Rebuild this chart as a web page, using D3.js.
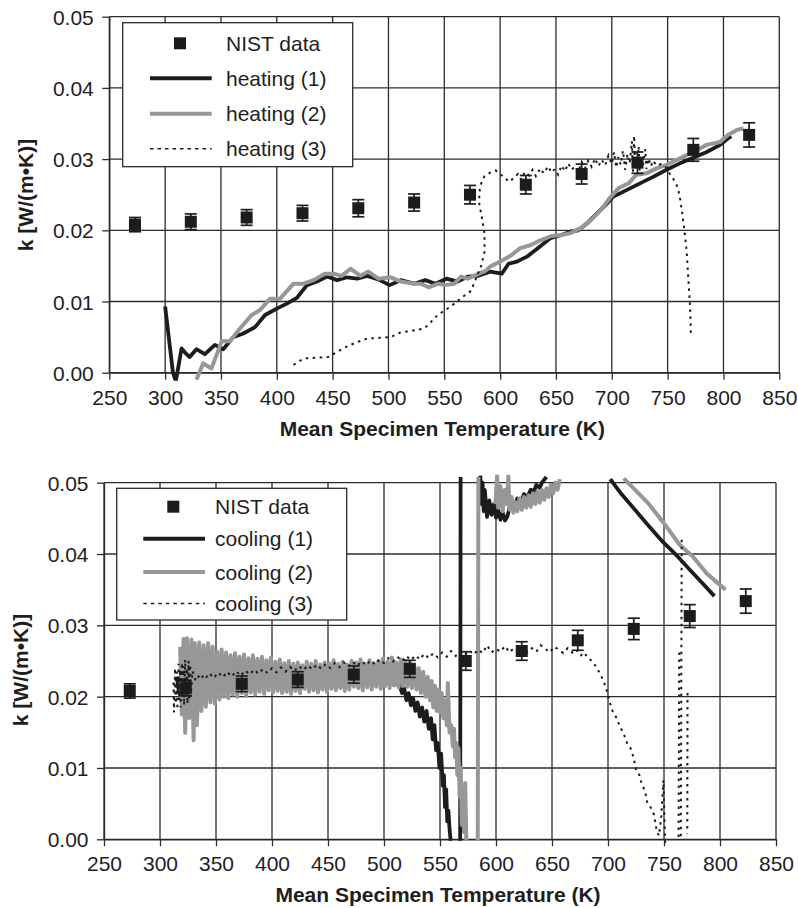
<!DOCTYPE html>
<html><head><meta charset="utf-8">
<script src="https://cdn.jsdelivr.net/npm/d3@7"></script>
<style>
body{margin:0;background:#fff}
svg{display:block}
text{font-family:"Liberation Sans",Arial,Helvetica,sans-serif;fill:#1e1e1e}
</style>
</head><body>
<svg id="c" width="798" height="908"></svg>
<script>
// ---------------- DATA ----------------
const xTicks = [250,300,350,400,450,500,550,600,650,700,750,800,850];
const yTicks = [0,0.01,0.02,0.03,0.04,0.05];
const yTickLabels = ["0.00","0.01","0.02","0.03","0.04","0.05"];
const xTitle = "Mean Specimen Temperature (K)";
const yTitle = "k [W/(m\u2022K)]";

const nistT = [273,323,373,423,473,523,573,623,673,723,773,823];
const nistK = [0.0208,0.0212,0.0218,0.0224,0.0231,0.0239,0.0250,0.0264,0.0279,0.0295,0.0313,0.0334];
const nistErr = [0.0010,0.0011,0.0011,0.0011,0.0012,0.0012,0.0013,0.0013,0.0014,0.0015,0.0016,0.0017];

const heatingNames = ["NIST data","heating (1)","heating (2)","heating (3)"];
const coolingNames = ["NIST data","cooling (1)","cooling (2)","cooling (3)"];

const heating1 = [[300,0.0093],[304,0.0040],[307,0.0000],[309.6,-0.0012],[312,0.0010],[314.7,0.0034],[318,0.0028],[322,0.0022],[328,0.0033],[335.6,0.0026],[344.6,0.0039],[352,0.0033],[361,0.0050],[370,0.0055],[380.5,0.0064],[389.5,0.0081],[400,0.0090],[409,0.0097],[418,0.0105],[427,0.0123],[436,0.0128],[445,0.0135],[454,0.0130],[463,0.0134],[472,0.0132],[481,0.0136],[491,0.0131],[501,0.0123],[511,0.0130],[523,0.0125],[533,0.0130],[542,0.0125],[552,0.0132],[562,0.0128],[571,0.0135],[580,0.0136],[591,0.0142],[601.5,0.0139],[607.5,0.0153],[615,0.0156],[624,0.0163],[634,0.0175],[645,0.0189],[654,0.0193],[663,0.0198],[670,0.0200],[678,0.0210],[687,0.0224],[696,0.0238],[701,0.0247],[710,0.0254],[719,0.0261],[728,0.0268],[737,0.0275],[749,0.0285],[761,0.0294],[773,0.0302],[785,0.0310],[797,0.0320],[804,0.0329],[807,0.0332]];

const heating2 = [[328,-0.0010],[334,0.0013],[341.6,0.0006],[350.6,0.0044],[358,0.0044],[367,0.0062],[377.5,0.0081],[385,0.0088],[394,0.0104],[403,0.0104],[415,0.0125],[424,0.0125],[433,0.0130],[443,0.0139],[451,0.0139],[458,0.0136],[466,0.0146],[475,0.0136],[482,0.0142],[491,0.0132],[502,0.0134],[511,0.0128],[523,0.0125],[529,0.0125],[536,0.0120],[545,0.0125],[550,0.0123],[559,0.0125],[565,0.0135],[571,0.0132],[578,0.0137],[587,0.0143],[591,0.0149],[600,0.0156],[610,0.0165],[618,0.0175],[627,0.0179],[636,0.0186],[646,0.0192],[654,0.0193],[663,0.0196],[672,0.0203],[681,0.0214],[690,0.0228],[698,0.0245],[706,0.0259],[715,0.0266],[722,0.0278],[731,0.0280],[740,0.0287],[749,0.0292],[761,0.0301],[773,0.0310],[785,0.0320],[797,0.0324],[804,0.0334],[812,0.0341],[818,0.0343]];

const heating3 = [[415,0.0011],[424,0.0020],[436,0.0021],[446,0.0022],[455,0.0030],[463,0.0037],[472,0.0043],[481,0.0048],[492,0.0049],[502,0.0050],[510,0.0056],[517,0.0058],[525,0.0060],[532,0.0062],[538,0.0071],[544,0.0081],[552,0.0089],[559,0.0097],[566,0.0106],[574,0.0115],[579,0.0135],[583,0.0150],[586,0.0170],[586,0.0195],[584,0.0215],[581,0.0240],[582,0.0262],[586,0.0276],[591,0.0281],[596,0.0284],[600,0.0279],[605,0.0272],[609,0.0268],[612,0.0274],[616,0.0279],[619,0.0271],[622,0.0282],[626,0.0277],[629,0.0285],[632,0.0276],[636,0.0287],[639,0.0280],[643,0.0290],[646,0.0281],[649,0.0286],[652,0.0278],[655,0.0291],[658,0.0283],[661,0.0294],[664,0.0285],[667,0.0290],[670,0.0282],[673,0.0296],[676,0.0287],[679,0.0298],[682,0.0289],[685,0.0301],[688,0.0290],[691,0.0299],[694,0.0291],[697,0.0305],[700,0.0293],[702,0.0310],[704,0.0288],[706,0.0303],[708,0.0292],[710,0.0312],[712,0.0285],[714,0.0307],[716,0.0294],[718,0.0325],[719,0.0282],[720,0.0333],[721,0.0289],[722,0.0310],[723,0.0286],[724,0.0318],[725,0.0283],[727,0.0305],[728,0.0292],[730,0.0314],[731,0.0286],[733,0.0301],[735,0.0290],[737,0.0298],[740,0.0291],[744,0.0293],[748,0.0289],[752,0.0279],[756,0.0270],[759,0.0260],[761,0.0246],[763,0.0225],[765,0.0200],[767,0.0172],[768,0.0145],[769,0.0120],[770,0.0095],[770.5,0.0075],[770.8,0.0055]];

const cooling1 = [[795,0.0341],[785,0.0358],[773,0.0378],[762,0.0397],[749,0.0417],[736,0.0440],[723,0.0464],[712,0.0484],[702,0.0505],[700,null],
[645,0.0508],[641,0.0500],[639,0.0493],[636,0.0497],[634,0.0488],[631,0.0490],[628,0.0480],[625,0.0484],[622,0.0472],[619,0.0478],[616,0.0465],[613,0.0470],[610,0.0452],[608,0.0447],[606,0.0458],[604,0.0448],[602,0.0462],[600,0.0451],[598,0.0470],[596,0.0455],[594,0.0475],[592,0.0452],[590,0.0490],[589,0.0460],[588,0.0500],[587,0.0470],[586,0.0510],[585,null],
[568.4,0.0508],[568.0,-0.0002],[567,null],
[559.5,-0.0002],[558.5,0.0015],[557.5,0.0040],[556.5,0.0025],[555.5,0.0070],[554.5,0.0045],[553.5,0.0090],[552.5,0.0075],[551,0.0120],[549.5,0.0100],[548,0.0135],[546.5,0.0125],[545,0.0160],[543.5,0.0140],[542,0.0170],[540,0.0155],[538,0.0180],[536,0.0165],[534,0.0185],[532,0.0172],[530,0.0192],[528,0.0180],[526,0.0198],[524,0.0188],[522,0.0205],[520,0.0195],[518,0.0212],[516,0.0205],
[513,0.0222],[509,0.0216],[505,0.0232],[501,0.0218],[497,0.0234],[493,0.0217],[489,0.0231],[485,0.0218],[481,0.0234],[477,0.0216],[473,0.0231],[469,0.0218],[465,0.0233],[461,0.0216],[457,0.0230],[453,0.0218],[449,0.0232],[445,0.0215],[441,0.0230],[437,0.0217],[433,0.0232],[429,0.0216],[425,0.0229],[421,0.0217],[417,0.0231],[413,0.0215],[409,0.0229],[405,0.0216],[401,0.0232],[397,0.0215],[393,0.0230],[389,0.0214],[385,0.0232],[381,0.0215],[377,0.0233],[373,0.0214],[369,0.0232],[365,0.0213],[361,0.0234],[357,0.0212],[353,0.0235],[349,0.0211],[345,0.0236],[341,0.0208],[337,0.0238],[333,0.0205],[329,0.0240],[325,0.0202],[321,0.0242],[317,0.0205],[315,0.0228]];

const cooling2 = [[805,0.0350],[796,0.0362],[788,0.0373],[776,0.0396],[764,0.0413],[749,0.0445],[736,0.0471],[726,0.0487],[714,0.0506],[712,null],
[657,0.0505],[655,0.0490],[653,0.0500],[651,0.0485],[649,0.0497],[647,0.0480],[645,0.0492],[643,0.0476],[641,0.0490],[639,0.0472],[637,0.0488],[635,0.0470],[633,0.0485],[631,0.0466],[629,0.0482],[627,0.0465],[625,0.0480],[623,0.0462],[621,0.0478],[619,0.0460],[617,0.0473],[615.5,0.0458],[614,0.0480],[612,0.0462],[611,0.0510],[610,0.0470],[608,0.0490],[606,0.0460],[604,0.0495],[602,0.0465],[601,0.0510],[599.5,0.0470],[599,null],
[584.3,0.0508],[583.7,-0.0002],[583,null],
[573.5,-0.0002],[572.5,0.0079],[571.5,0.0010],[570.5,0.0060],[569.5,0.0020],[568.5,0.0100],[567.5,0.0060],[566.5,0.0128],[565.5,0.0090],[564.5,0.0135],[563.5,0.0115],[562.5,0.0155],[561.5,0.0130],[560,0.0160],[558.5,0.0150],[557,0.0219],[556,0.0160],[554.5,0.0195],[553,0.0170],[551.5,0.0205],[550,0.0178],[548.5,0.0210],[547,0.0180],[545.5,0.0215],[544,0.0185],[542.5,0.0222],[541,0.0195],[539,0.0228],[537,0.0200],[535,0.0235],[533,0.0205],[531,0.0240],[529,0.0210],[527,0.0245],[525,0.0212],[523,0.0248],
[521,0.0214],[519,0.0250],[517,0.0215],[515,0.0252],[513,0.0213],[511,0.0248],[509,0.0216],[507,0.0255],[505,0.0212],[503,0.0249],[501,0.0215],[499,0.0253],[497,0.0211],[495,0.0250],[493,0.0214],[491,0.0247],[489,0.0210],[487,0.0251],[485,0.0213],[483,0.0246],[481,0.0209],[479,0.0252],[477,0.0212],[475,0.0248],[473,0.0214],[471,0.0250],[469,0.0210],[467,0.0245],[465,0.0208],[463,0.0249],[461,0.0212],[459,0.0246],[457,0.0209],[455,0.0251],[453,0.0211],[451,0.0247],[449,0.0207],[447,0.0248],[445,0.0210],[443,0.0245],[441,0.0206],[439,0.0250],[437,0.0209],[435,0.0246],[433,0.0207],[431,0.0249],[429,0.0211],[427,0.0244],[425,0.0205],[423,0.0248],[421,0.0208],[419,0.0246],[417,0.0204],[415,0.0250],[413,0.0207],[411,0.0247],[409,0.0205],[407,0.0252],[405,0.0208],[403,0.0249],[401,0.0206],[399,0.0255],[397,0.0209],[395,0.0251],[393,0.0204],[391,0.0256],[389,0.0207],[387,0.0253],[385,0.0203],[383,0.0258],[381,0.0206],[379,0.0254],[377,0.0201],[375,0.0259],[373,0.0205],[371,0.0256],[369,0.0200],[367,0.0261],[365,0.0203],[363,0.0258],[361,0.0198],[359,0.0262],[357,0.0200],[355,0.0266],[353,0.0196],[351,0.0263],[349,0.0190],[347,0.0270],[345,0.0192],[343,0.0275],[341,0.0186],[339,0.0272],[337,0.0180],[335,0.0276],[333,0.0160],[331,0.0275],[330,0.0139],[328,0.0280],[326,0.0170],[324,0.0282],[322.5,0.0149],[321,0.0281],[319.5,0.0175],[318,0.0270]];

const cooling3 = [[771.0,0.0205],[770.9,0.0100],[770.8,0.0008],[770.5,null],
[765.8,0.0420],[765.6,0.0300],[765.3,0.0150],[765.0,0.0000],[765,null],
[763.6,0.0262],[763.3,0.0130],[763.0,-0.0003],[763,null],
[751,-0.0005],[749.5,0.0083],[747.5,0.0030],[745.5,0.0005],[743.5,0.0012],[741,0.0035],[738,0.0045],[735,0.0052],[733,0.0068],[730,0.0078],[728,0.0090],[725,0.0098],[722.6,0.0116],[720,0.0128],[717,0.0135],[714,0.0148],[710.7,0.0158],[707,0.0172],[704,0.0180],[701,0.0195],[698.8,0.0209],[696,0.0222],[693,0.0232],[690,0.0240],[687,0.0248],[684,0.0252],[681,0.0256],[679,0.0262],[676,0.0258],[673,0.0265],[670,0.0260],
[668,0.0262],[664,0.0268],[660,0.0261],[656,0.0266],[652,0.0270],[648,0.0262],[644,0.0267],[640,0.0272],[636,0.0263],[632,0.0268],[628,0.0262],[624,0.0270],[620,0.0264],[616,0.0268],[612,0.0262],[608,0.0271],[604,0.0263],[600,0.0267],[596,0.0262],[592,0.0272],[588,0.0261],[584,0.0266],[580,0.0259],[576,0.0265],[572,0.0258],[568,0.0263],[564,0.0257],[560,0.0264],[556,0.0256],[552,0.0262],[548,0.0255],[544,0.0261],[540,0.0254],[536,0.0260],[532,0.0252],[528,0.0258],[524,0.0251],[520,0.0257],[516,0.0250],[512,0.0256],[508,0.0249],[504,0.0254],[500,0.0247],[496,0.0252],[492,0.0245],[488,0.0251],[484,0.0244],[480,0.0250],[476,0.0243],[472,0.0249],[468,0.0242],[464,0.0248],[460,0.0241],[456,0.0247],[452,0.0240],[448,0.0246],[444,0.0239],[440,0.0245],[436,0.0238],[432,0.0244],[428,0.0237],[424,0.0243],[420,0.0236],[416,0.0242],[412,0.0235],[408,0.0241],[404,0.0234],[400,0.0240],[396,0.0233],[392,0.0239],[388,0.0232],[384,0.0238],[380,0.0231],[376,0.0237],[372,0.0229],[368,0.0236],[364,0.0228],[360,0.0235],[356,0.0227],[352,0.0234],[348,0.0226],[344,0.0233],[340,0.0224],[336,0.0232],[332,0.0222],[329,0.0236],
[327.5,0.0200],[327,0.0245],[326,0.0195],[325.5,0.0250],[324.5,0.0190],[324,0.0240],[323,0.0205],[322.5,0.0252],[321.5,0.0188],[321,0.0243],[320,0.0198],[319.5,0.0248],[318.5,0.0185],[318,0.0238],[317,0.0195],[316.5,0.0246],[315.5,0.0182],[315,0.0235],[314,0.0190],[313.5,0.0240],[312.5,0.0178],[312,0.0225]];

// ---------------- STYLE ----------------
const BLACK = "#1c1c1c", GRAY = "#979797", GRID = "#2b2b2b";
const svg = d3.select("#c");

function panel(cfg) {
  const x = d3.scaleLinear().domain([250, 850]).range([cfg.x0, cfg.x1]);
  const y = d3.scaleLinear().domain([0, 0.05]).range([cfg.y0, cfg.y1]);
  const g = svg.append("g");

  g.append("g").selectAll("line").data(xTicks).join("line")
    .attr("x1", d => x(d)).attr("x2", d => x(d))
    .attr("y1", y(0)).attr("y2", y(0.05))
    .attr("stroke", GRID).attr("stroke-width", 1.3);
  g.append("g").selectAll("line").data(yTicks).join("line")
    .attr("x1", x(250)).attr("x2", x(850))
    .attr("y1", d => y(d)).attr("y2", d => y(d))
    .attr("stroke", GRID).attr("stroke-width", 1.3);

  const ax = g.append("g").attr("transform", `translate(0,${y(0)})`)
    .call(d3.axisBottom(x).tickValues(xTicks).tickSize(7).tickSizeOuter(0).tickFormat(d3.format("d")));
  ax.select(".domain").attr("stroke", GRID).attr("stroke-width", 1.3);
  ax.selectAll(".tick line").attr("stroke", GRID).attr("stroke-width", 1.3);
  ax.selectAll(".tick text").attr("y", 32).attr("dy", null)
    .style("font-size", "21px").style("font-family", "Liberation Sans, Arial, sans-serif").attr("fill", "#1e1e1e");

  const ay = g.append("g").attr("transform", `translate(${x(250)},0)`)
    .call(d3.axisLeft(y).tickValues(yTicks).tickSize(7).tickSizeOuter(0).tickFormat((d, i) => yTickLabels[i]));
  ay.select(".domain").attr("stroke", GRID).attr("stroke-width", 1.3);
  ay.selectAll(".tick line").attr("stroke", GRID).attr("stroke-width", 1.3);
  ay.selectAll(".tick text").attr("x", -15.5).attr("dy", "0.36em")
    .style("font-size", "21px").style("font-family", "Liberation Sans, Arial, sans-serif").attr("fill", "#1e1e1e");

  g.append("text").attr("x", (cfg.x0 + cfg.x1) / 2 - 2).attr("y", cfg.xTitleY)
    .attr("text-anchor", "middle").style("font-size", "21px").style("font-weight", "bold").text(xTitle);
  g.append("text").attr("transform", `translate(${cfg.yTitleX},${cfg.yTitleCY}) rotate(-90)`)
    .attr("text-anchor", "middle").style("font-size", "21px").style("font-weight", "bold").text(yTitle);

  const cid = "clip" + cfg.id;
  svg.append("defs").append("clipPath").attr("id", cid).append("rect")
    .attr("x", cfg.x0 - 2).attr("y", cfg.y1 - 8).attr("width", cfg.x1 - cfg.x0 + 4).attr("height", cfg.y0 - cfg.y1 + 16);

  const line = d3.line().defined(d => d[1] !== null).x(d => x(d[0])).y(d => y(d[1]));
  const dg = g.append("g").attr("clip-path", `url(#${cid})`);
  dg.append("path").datum(cfg.s1).attr("d", line).attr("fill", "none")
    .attr("stroke", BLACK).attr("stroke-width", 3.8).attr("stroke-linejoin", "round");
  dg.append("path").datum(cfg.s2).attr("d", line).attr("fill", "none")
    .attr("stroke", GRAY).attr("stroke-width", 4).attr("stroke-linejoin", "round");
  dg.append("path").datum(cfg.s3).attr("d", line).attr("fill", "none")
    .attr("stroke", BLACK).attr("stroke-width", 2).attr("stroke-dasharray", "2.5,4.5");

  const nist = nistT.map((t, i) => ({ t, k: nistK[i], e: nistErr[i] }));
  const ng = g.append("g").selectAll("g").data(nist).join("g");
  ng.append("line").attr("x1", d => x(d.t)).attr("x2", d => x(d.t))
    .attr("y1", d => y(d.k - d.e)).attr("y2", d => y(d.k + d.e)).attr("stroke", BLACK).attr("stroke-width", 1.7);
  ng.append("line").attr("x1", d => x(d.t) - 6).attr("x2", d => x(d.t) + 6)
    .attr("y1", d => y(d.k - d.e)).attr("y2", d => y(d.k - d.e)).attr("stroke", BLACK).attr("stroke-width", 1.7);
  ng.append("line").attr("x1", d => x(d.t) - 6).attr("x2", d => x(d.t) + 6)
    .attr("y1", d => y(d.k + d.e)).attr("y2", d => y(d.k + d.e)).attr("stroke", BLACK).attr("stroke-width", 1.7);
  ng.append("rect").attr("x", d => x(d.t) - 6).attr("y", d => y(d.k) - 6)
    .attr("width", 12).attr("height", 12).attr("fill", BLACK);

  const L = cfg.legend;
  const lg = g.append("g");
  lg.append("rect").attr("x", L.x).attr("y", L.y).attr("width", L.w).attr("height", L.h)
    .attr("fill", "#fff").attr("stroke", GRID).attr("stroke-width", 1.3);
  cfg.names.forEach((nm, i) => {
    const cy = L.rows[i];
    if (i === 0) {
      lg.append("rect").attr("x", L.sym - 6).attr("y", cy - 6).attr("width", 12).attr("height", 12).attr("fill", BLACK);
    } else {
      const l = lg.append("line").attr("x1", L.l1).attr("x2", L.l2).attr("y1", cy).attr("y2", cy);
      if (i === 1) l.attr("stroke", BLACK).attr("stroke-width", 4);
      if (i === 2) l.attr("stroke", GRAY).attr("stroke-width", 4);
      if (i === 3) l.attr("stroke", BLACK).attr("stroke-width", 1.5).attr("stroke-dasharray", "3.5,4");
    }
    lg.append("text").attr("x", L.tx).attr("y", cy).attr("dy", "0.36em")
      .style("font-size", "21px").text(nm);
  });
}

panel({
  id: 1, x0: 109.3, x1: 779.3, y0: 372.7, y1: 16.7, xTitleY: 436, yTitleX: 33, yTitleCY: 195,
  s1: heating1, s2: heating2, s3: heating3, names: heatingNames,
  legend: { x: 122.7, y: 22.7, w: 230, h: 144, sym: 180, l1: 150, l2: 211.7, tx: 226, rows: [43.3, 78.2, 113.8, 148.8] }
});
panel({
  id: 2, x0: 104, x1: 776, y0: 839.3, y1: 482.7, xTitleY: 902, yTitleX: 28, yTitleCY: 670,
  s1: cooling1, s2: cooling2, s3: cooling3, names: coolingNames,
  legend: { x: 116.7, y: 488.3, w: 230, h: 131.7, sym: 173.3, l1: 143.3, l2: 205, tx: 215, rows: [506.7, 538.8, 572, 603.5] }
});
</script>
</body></html>
